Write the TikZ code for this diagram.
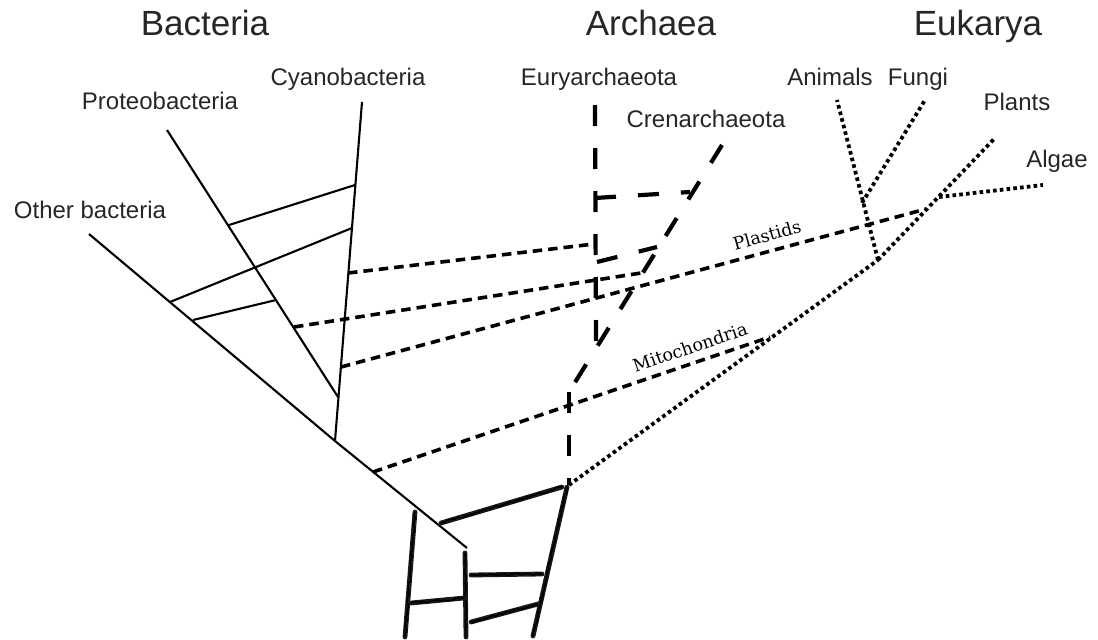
\documentclass[tikz,border=0pt]{standalone}
\usepackage{fontspec}
\setmainfont{Liberation Sans}
\newfontfamily\serifl{DejaVu Serif}
\usetikzlibrary{decorations.pathmorphing}
\definecolor{txt}{HTML}{262626}
\begin{document}
\begin{tikzpicture}[x=1pt,y=-1pt,
  bact/.style={line width=2.1pt},
  xfer/.style={line width=3.6pt, dash pattern=on 9.5pt off 6pt},
  arch/.style={line width=4.2pt, dash pattern=on 21pt off 22pt},
  euk/.style={line width=3.8pt, dash pattern=on 3.6pt off 3.2pt},
  brush/.style={line width=4.8pt, line cap=round, black!90},
  brushfx/.style={line width=1.5pt, black, decorate, decoration={random steps, segment length=3pt, amplitude=1.2pt}},
  title/.style={font=\fontsize{35}{38}\selectfont, text=txt, anchor=base, inner sep=0pt},
  lab/.style={font=\fontsize{24}{27}\selectfont, text=txt, anchor=base, inner sep=0pt},
  tag/.style={font=\serifl\fontsize{17.5}{19}\selectfont, text=black, inner sep=0pt}]
\useasboundingbox (0,0) rectangle (1098,640);

% ---- titles and labels
\node[title] (tB) at (205,35) {Bacteria};
\node[title] (tA) at (651,35) {Archaea};
\node[title] (tE) at (978,35) {Eukarya};
\node[lab] (lCy) at (348,85) {Cyanobacteria};
\node[lab] (lPr) at (160,109) {Proteobacteria};
\node[lab] (lOb) at (90,218) {Other bacteria};
\node[lab] (lEu) at (599,85) {Euryarchaeota};
\node[lab] (lCr) at (706,127) {Crenarchaeota};
\node[lab] (lAn) at (830,85) {Animals};
\node[lab] (lFu) at (918,85) {Fungi};
\node[lab] (lPl) at (1017,110) {Plants};
\node[lab] (lAl) at (1057,167) {Algae};
\node[tag, rotate=15.5] (lPs) at (767,235) {Plastids};
\node[tag, rotate=18.7] (lMi) at (690,347) {Mitochondria};

% ---- bacteria coordinates
\coordinate (cyT) at (362,102);
\coordinate (cyB) at (335,441);
\coordinate (prT) at (167,130);
\coordinate (prB) at (338,397);
\coordinate (obT) at (89,234);
\coordinate (bR) at (467,548);
\coordinate (k1a) at (229,225);
\coordinate (k1b) at (355,185);
\coordinate (k2a) at (170,302);
\coordinate (k2b) at (352,228);
\coordinate (k3a) at (193,320);
\coordinate (k3b) at (276,300);
% transfer start points
\coordinate (d1a) at (348,273);
\coordinate (d2a) at (294,327);
\coordinate (psa) at (341,367);
\coordinate (mia) at (373,472);

% ---- archaea coordinates
\coordinate (euT) at (595,105);
\coordinate (euJ) at (596,347);
\coordinate (crT) at (722,145);
\coordinate (arJ) at (569,392);
\coordinate (arB) at (569,485);
\coordinate (a1a) at (595,198);
\coordinate (a1b) at (690,192);
\coordinate (a2a) at (597,262);
\coordinate (a2b) at (657,247);
\coordinate (d1b) at (594,244);
\coordinate (d2b) at (641,273);

% ---- eukarya coordinates
\coordinate (ek1) at (878,260);
\coordinate (plT) at (995,138);
\coordinate (alJ) at (939,197);
\coordinate (alT) at (1043,185);
\coordinate (anT) at (837,100);
\coordinate (fuJ) at (862,203);
\coordinate (fuT) at (925,100);
\coordinate (psb) at (926,209);
\coordinate (mib) at (770,337);

% ---- root coordinates
\coordinate (r1a) at (415,512); \coordinate (r1b) at (405,637);
\coordinate (r2a) at (465,553); \coordinate (r2b) at (466,637);
\coordinate (r3a) at (567,487); \coordinate (r3b) at (533,636);
\coordinate (h1a) at (441,523); \coordinate (h1b) at (562,487);
\coordinate (h2a) at (471,575); \coordinate (h2b) at (542,574);
\coordinate (h3a) at (411,603); \coordinate (h3b) at (464,598);
\coordinate (h4a) at (471,622); \coordinate (h4b) at (538,604);

% ---- bacteria (solid)
\draw[bact] (cyT) -- (cyB);
\draw[bact] (prT) -- (prB);
\draw[bact] (obT) -- (cyB) -- (bR);
\draw[bact] (k1a) -- (k1b);
\draw[bact] (k2a) -- (k2b);
\draw[bact] (k3a) -- (k3b);

% ---- transfers (short dashes)
\draw[xfer] (d1a) -- (d1b);
\draw[xfer] (d2a) -- (d2b);
\draw[xfer] (psa) -- (psb);
\draw[xfer] (mia) -- (mib);

% ---- archaea (long dashes)
\draw[arch] (euT) -- (euJ);
\draw[arch] (crT) -- (arJ);
\draw[arch] (arJ) -- (arB);
\draw[arch] (a1a) -- (a1b);
\draw[arch] (a2a) -- (a2b);

% ---- eukarya (dotted)
\draw[euk] (arB) -- (ek1);
\draw[euk] (ek1) -- (plT);
\draw[euk] (alJ) -- (alT);
\draw[euk] (ek1) -- (anT);
\draw[euk] (fuJ) -- (fuT);

% ---- root (brush strokes)
\foreach \p/\q in {r1a/r1b, r2a/r2b, r3a/r3b, h1a/h1b, h2a/h2b, h3a/h3b, h4a/h4b}{
  \draw[brush] (\p) -- (\q);
  \draw[brushfx] (\p) -- (\q);
}
\end{tikzpicture}
\end{document}
